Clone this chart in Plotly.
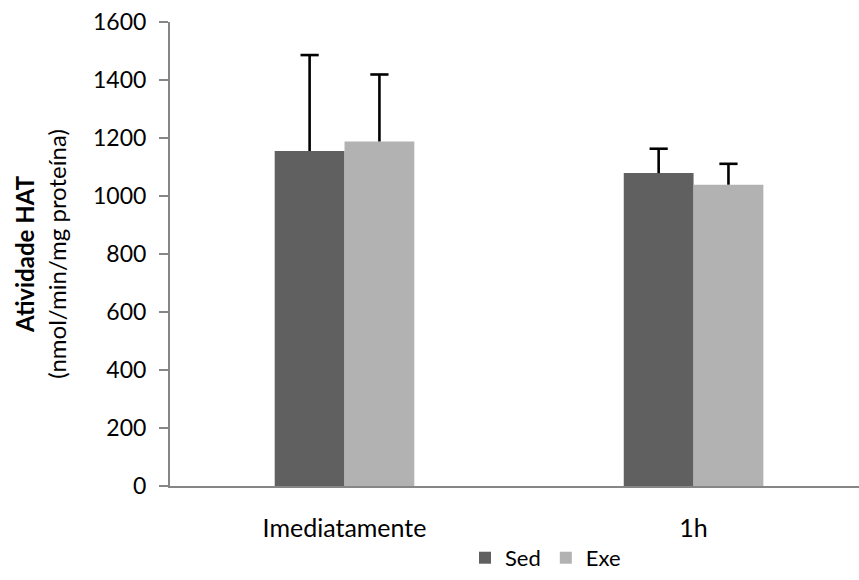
import plotly.graph_objects as go

# HAT activity by time point and group
categories = ["Imediatamente", "1h"]
sed_values = [1155, 1079]
sed_errors = [331, 84]
exe_values = [1188, 1039]
exe_errors = [231, 72]
y_ticks = [0, 200, 400, 600, 800, 1000, 1200, 1400, 1600]

FONT = "Lato"
AXIS_GRAY = "#868686"
ERR_THICK = 2.6

groups = [
    ("Sed", sed_values, sed_errors, "#606060"),
    ("Exe", exe_values, exe_errors, "#b2b2b2"),
]

fig = go.Figure()

for name, vals, errs, color in groups:
    fig.add_trace(go.Bar(
        name=name,
        x=categories,
        y=vals,
        offsetgroup=name,
        marker=dict(color=color, line=dict(width=0)),
    ))

# upper-only error bars: a cap marker at value + error with a stem going down
for name, vals, errs, color in groups:
    tops = [v + e for v, e in zip(vals, errs)]
    fig.add_trace(go.Scatter(
        x=categories,
        y=tops,
        mode="markers",
        offsetgroup=name,
        showlegend=False,
        hoverinfo="skip",
        marker=dict(symbol="line-ew", size=13, color="black",
                    line=dict(color="black", width=ERR_THICK)),
        error_y=dict(type="data", symmetric=False, array=[0] * len(errs),
                     arrayminus=errs, color="black", thickness=ERR_THICK, width=0),
    ))

fig.update_layout(
    width=859,
    height=580,
    margin=dict(l=170, r=0, t=22, b=94),
    paper_bgcolor="white",
    plot_bgcolor="white",
    barmode="group",
    scattermode="group",
    bargap=0.6,
    scattergap=0.6,
    bargroupgap=0,
    font=dict(family=FONT, size=23, color="black"),
    showlegend=True,
    legend=dict(
        orientation="h",
        x=0.545, xanchor="center",
        y=-0.155, yanchor="middle",
        font=dict(family=FONT, size=22, color="black"),
        itemwidth=30,
        traceorder="normal",
    ),
)

fig.update_xaxes(
    range=[-0.5, 1.474],
    showline=True,
    linecolor=AXIS_GRAY,
    linewidth=2,
    ticks="",
    ticklabelstandoff=19,
    tickfont=dict(family=FONT, size=25, color="black"),
    showgrid=False,
    zeroline=False,
)

fig.update_yaxes(
    range=[0, 1600],
    tickvals=y_ticks,
    showline=True,
    linecolor=AXIS_GRAY,
    linewidth=2,
    ticks="outside",
    ticklen=9,
    tickwidth=2,
    tickcolor=AXIS_GRAY,
    ticklabelstandoff=8,
    tickfont=dict(family=FONT, size=23, color="black"),
    showgrid=False,
    zeroline=False,
    title=dict(
        text="<b>Atividade HAT</b><br>(nmol/min/mg proteína)",
        font=dict(family=FONT, size=24, color="black"),
        standoff=20,
    ),
)

fig.write_html("out.html")
